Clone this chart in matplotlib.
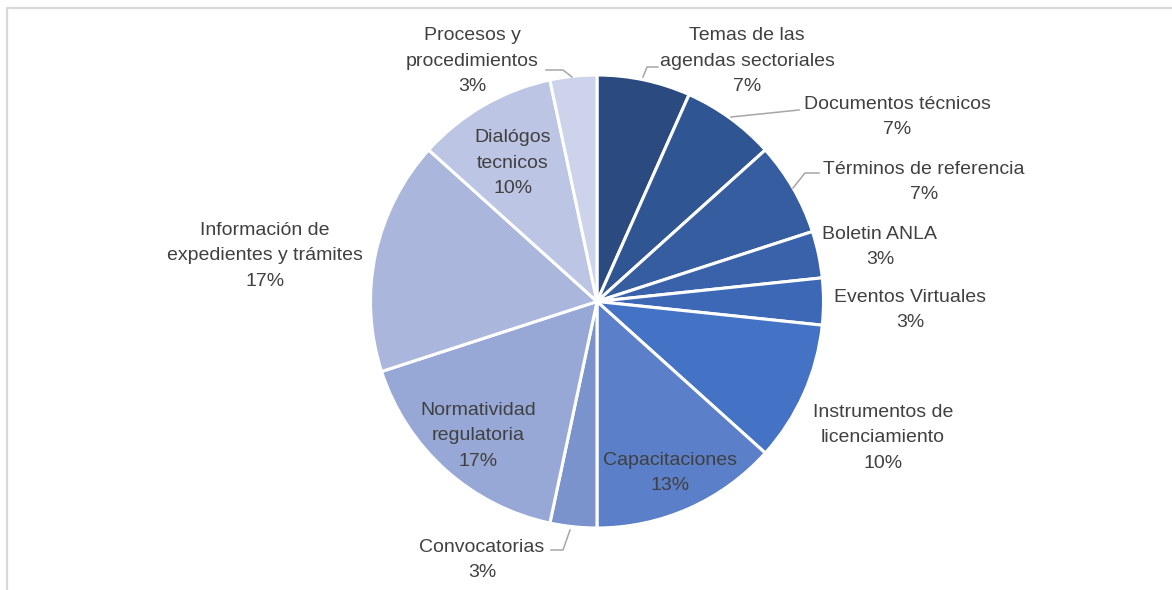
import matplotlib.pyplot as plt
from matplotlib.lines import Line2D

categorias = ["Temas de las\nagendas sectoriales", "Documentos técnicos",
              "Términos de referencia", "Boletin ANLA", "Eventos Virtuales",
              "Instrumentos de\nlicenciamiento", "Capacitaciones", "Convocatorias",
              "Normatividad\nregulatoria", "Información de\nexpedientes y trámites",
              "Dialógos\ntecnicos", "Procesos y\nprocedimientos"]
cantidades = [2, 2, 2, 1, 1, 3, 4, 1, 5, 5, 3, 1]
colores = ["#2a4a80", "#2f5592", "#355da0", "#3962aa", "#3d68b5", "#4472c4",
           "#5b7fc8", "#7b93cc", "#97a8d6", "#aab6dc", "#bcc5e3", "#ccd3ea"]

# label placement (pixels, y from top)
pos_etiquetas = [(747, 61), (897, 117), (924, 182), (880, 247), (910, 310),
                 (883, 438), (670, 473), (482, 560), (478, 436), (265, 256),
                 (513, 163), (472, 61)]
guias = [[(643, 77), (647, 67), (658, 67)],
         [(731, 117), (799, 110)],
         [(793, 188), (805, 173), (819, 173)],
         [(572, 77), (563, 70), (546, 70)],
         [(570, 530), (563, 550), (551, 550)]]

W, H = 1172, 590
fig = plt.figure(figsize=(W / 100, H / 100), dpi=100)
ax = fig.add_axes([0, 0, 1, 1])

ax.pie(cantidades, colors=colores, startangle=90, counterclock=False,
       center=(597, H - 301.5), radius=226.5, frame=True,
       wedgeprops=dict(edgecolor="white", linewidth=2.2))
ax.set_xlim(0, W)
ax.set_ylim(0, H)
ax.axis("off")

total = sum(cantidades)
for cat, c, (x, y) in zip(categorias, cantidades, pos_etiquetas):
    ax.text(x, H - y, f"{cat}\n{round(100 * c / total)}%", ha="center", va="center",
            fontsize=14, color="#404040", family="Liberation Sans",
            linespacing=1.65)

for g in guias:
    xs = [q[0] for q in g]
    ys = [H - q[1] for q in g]
    ax.add_line(Line2D(xs, ys, color="#a6a6a6", lw=1.1))

# frame of the original sheet
ax.add_line(Line2D([7, 7, W], [0, H - 8, H - 8], color="#d9d9d9", lw=1.6))

fig.savefig("out.png", dpi=100)
